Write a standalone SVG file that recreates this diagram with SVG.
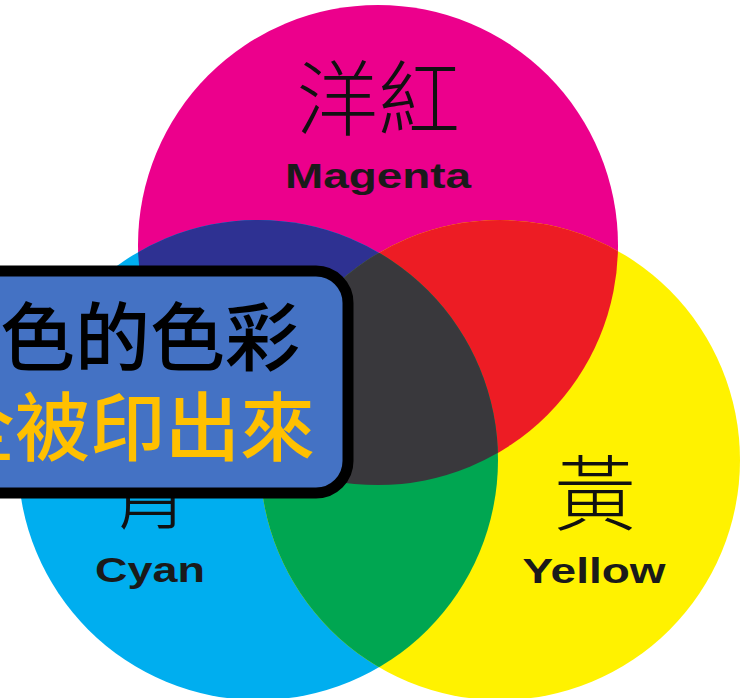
<svg xmlns="http://www.w3.org/2000/svg" width="751" height="698" viewBox="0 0 751 698">
<style>
.cjk{font-family:"Noto Sans CJK TC","Noto Sans CJK SC",sans-serif;}
.lbl{font-family:"Liberation Sans",Arial,sans-serif;font-weight:bold;font-size:35px;fill:#1a1a1a;text-anchor:middle;}
.big{font-size:82px;font-weight:300;fill:#111;text-anchor:middle;}
.box-t{font-size:75px;font-weight:500;}
</style>
<defs>
<circle id="cM" cx="378" cy="245" r="240"/>
<circle id="cC" cx="258" cy="460" r="240"/>
<circle id="cY" cx="500" cy="460" r="240"/>
<clipPath id="clipC"><use href="#cC"/></clipPath>
<clipPath id="clipY"><use href="#cY"/></clipPath>
</defs>
<rect width="751" height="698" fill="#ffffff"/>
<g id="circles">
<use href="#cM" fill="#ec008c"/>
<use href="#cC" fill="#00aeef"/>
<use href="#cY" fill="#fff200"/>
<use href="#cM" fill="#2e3192" clip-path="url(#clipC)"/>
<use href="#cM" fill="#ed1c24" clip-path="url(#clipY)"/>
<use href="#cC" fill="#00a651" clip-path="url(#clipY)"/>
<g clip-path="url(#clipY)"><use href="#cM" fill="#39383c" clip-path="url(#clipC)"/></g>
</g>
<g id="magenta-label">
<text class="cjk big" x="378" y="129">洋紅</text>
<text class="lbl" x="378" y="188" textLength="186" lengthAdjust="spacingAndGlyphs">Magenta</text>
</g>
<g id="yellow-label">
<text class="cjk big" x="595" y="524" font-size="88">黃</text>
<text class="lbl" x="594" y="583" textLength="143" lengthAdjust="spacingAndGlyphs">Yellow</text>
</g>
<g id="cyan-label">
<text class="cjk big" x="150" y="522" font-size="86">青</text>
<text class="lbl" x="150" y="582" textLength="110" lengthAdjust="spacingAndGlyphs">Cyan</text>
</g>
<g id="callout">
<rect x="-60" y="271" width="408" height="222" rx="32" ry="32" fill="#4472c4" stroke="#000" stroke-width="11"/>
<text class="cjk box-t" x="0" y="365" fill="#000">色的色彩</text>
<text class="cjk box-t" x="-60" y="455" fill="#ffc000">全被印出來</text>
</g>
</svg>
